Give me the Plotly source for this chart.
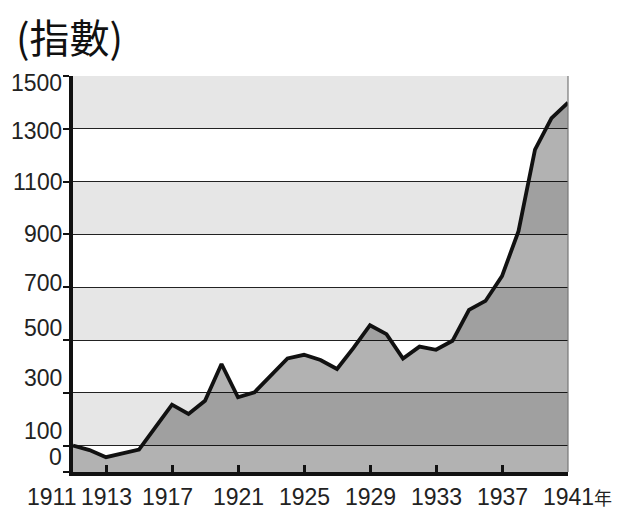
import plotly.graph_objects as go

years = list(range(1911, 1942))
index_values = [100, 83, 56, 70, 85, 170, 255, 220, 270, 409, 283, 302, 366, 430, 444,
                424, 390, 470, 556, 522, 430, 475, 463, 497, 614, 648, 742, 912, 1221, 1340, 1399]

x_tick_years = [1911, 1913, 1917, 1921, 1925, 1929, 1933, 1937, 1941]
x_tick_text = ["1911", "1913", "1917", "1921", "1925", "1929", "1933", "1937", "1941年"]
y_tick_vals = [0, 100, 300, 500, 700, 900, 1100, 1300, 1500]
y_tick_text = ["0", "100", "300", "500", "700", "900", "1100", "1300", "1500"]
band_edges = [0, 100, 300, 500, 700, 900, 1100, 1300, 1500]

NUM_FONT = "Liberation Sans, Arial, sans-serif"
NUM_SIZE = 23
CJK_FONT = "Noto Sans CJK TC, Noto Sans CJK SC, sans-serif"

# page has an 8px body margin; figure dimensions compensate for it
FIG_W, FIG_H = 617, 502
L, T = 65, 68
PW, PH = 495, 396

fig = go.Figure()
fig.add_trace(go.Scatter(
    x=years, y=index_values, mode="lines",
    line=dict(color="#111111", width=3.8),
    fill="tozeroy", fillcolor="rgba(0,0,0,0.3)",
    hoverinfo="skip", showlegend=False,
))

shapes = []
for i in range(len(band_edges) - 1):
    color = "#e6e6e6" if i % 2 == 1 else "#ffffff"
    shapes.append(dict(type="rect", xref="paper", yref="y", x0=0, x1=1,
                       y0=band_edges[i], y1=band_edges[i + 1],
                       fillcolor=color, line=dict(width=0), layer="below"))
shapes.append(dict(type="line", xref="paper", yref="paper", x0=1, x1=1, y0=0, y1=1,
                   line=dict(color="#777777", width=1.2), layer="above"))

annotations = []
y_label_shift = {0: 15, 100: 15, 300: 15, 500: 12, 700: 4, 900: 0, 1100: 0, 1300: -2, 1500: -7}
for v, t in zip(y_tick_vals, y_tick_text):
    annotations.append(dict(x=0, xref="paper", y=v, yref="y", text=t, showarrow=False,
                            xanchor="right", yanchor="middle", xshift=-9,
                            yshift=y_label_shift[v],
                            font=dict(family=NUM_FONT, size=NUM_SIZE, color="#222222")))
x_label_shift = {1911: -22, 1917: -5}
for v, t in zip(x_tick_years, x_tick_text):
    if t.endswith("年"):
        annotations.append(dict(x=v, xref="x", y=0, yref="paper", text=t[:-1], showarrow=False,
                                xanchor="center", yanchor="top", yshift=-10,
                                font=dict(family=NUM_FONT, size=NUM_SIZE, color="#222222")))
        annotations.append(dict(x=v, xref="x", y=0, yref="paper", text="年", showarrow=False,
                                xanchor="left", yanchor="middle", yshift=-25, xshift=24,
                                font=dict(family=CJK_FONT, size=18, color="#222222")))
    else:
        annotations.append(dict(x=v, xref="x", y=0, yref="paper", text=t, showarrow=False,
                                xanchor="center", yanchor="top", yshift=-10,
                                xshift=x_label_shift.get(v, 0),
                                font=dict(family=NUM_FONT, size=NUM_SIZE, color="#222222")))
annotations.append(dict(x=(6 - L) / PW, xref="paper", y=1 + T / PH, yref="paper",
                        text="(指數)", showarrow=False, xanchor="left", yanchor="top", yshift=3,
                        font=dict(family=CJK_FONT, size=40, color="#111111")))

fig.update_layout(
    width=FIG_W, height=FIG_H,
    margin=dict(l=L, r=FIG_W - L - PW, t=T, b=FIG_H - T - PH),
    paper_bgcolor="white", plot_bgcolor="white",
    shapes=shapes, annotations=annotations,
    xaxis=dict(range=[1911, 1941], showgrid=False, zeroline=False,
               tickvals=x_tick_years, ticks="inside", ticklen=7, tickwidth=2.5, tickcolor="#111111",
               showticklabels=False, showline=True, linecolor="#111111", linewidth=4),
    yaxis=dict(range=[0, 1500], tickvals=y_tick_vals, ticks="outside", ticklen=6, tickwidth=2,
               tickcolor="#111111", showticklabels=False, showline=True, linecolor="#111111",
               linewidth=3.5, showgrid=True, gridcolor="#222222", gridwidth=1.4, zeroline=False),
)
fig.write_html("out.html")
